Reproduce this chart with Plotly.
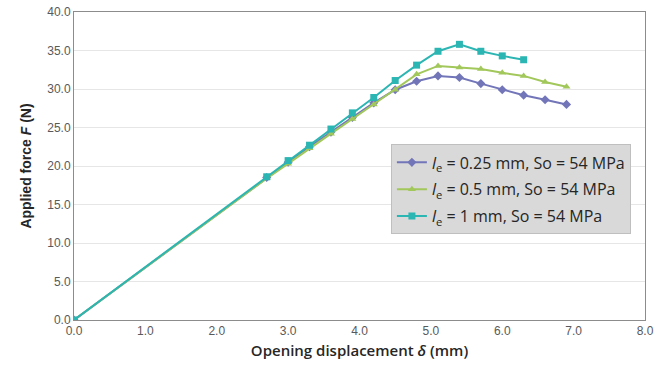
import plotly.graph_objects as go

x_all = [0.0, 2.7, 3.0, 3.3, 3.6, 3.9, 4.2, 4.5, 4.8, 5.1, 5.4, 5.7, 6.0, 6.3, 6.6, 6.9]
x_teal = [0.0, 2.7, 3.0, 3.3, 3.6, 3.9, 4.2, 4.5, 4.8, 5.1, 5.4, 5.7, 6.0, 6.3]

f_025 = [0.0, 18.5, 20.5, 22.5, 24.4, 26.3, 28.2, 29.9, 31.0, 31.7, 31.5, 30.7, 29.9, 29.2, 28.6, 28.0]
f_05 = [0.0, 18.4, 20.3, 22.3, 24.2, 26.1, 28.0, 29.9, 31.9, 33.0, 32.8, 32.6, 32.1, 31.7, 30.9, 30.3]
f_1 = [0.0, 18.6, 20.7, 22.7, 24.8, 26.9, 28.9, 31.1, 33.1, 34.9, 35.8, 34.9, 34.3, 33.8]

names = ["<i>l</i><sub>e</sub> = 0.25 mm, So = 54 MPa",
         "<i>l</i><sub>e</sub> = 0.5 mm, So = 54 MPa",
         "<i>l</i><sub>e</sub> = 1 mm, So = 54 MPa"]
colors = ["#7276b9", "#a2c75a", "#2bb5b3"]
symbols = ["diamond", "triangle-up", "square"]
xs = [x_all, x_all, x_teal]
ys = [f_025, f_05, f_1]

fig = go.Figure()
for i in range(3):
    fig.add_trace(go.Scatter(
        x=xs[i], y=ys[i], name=names[i], mode="lines+markers",
        line=dict(color=colors[i], width=2),
        marker=dict(symbol=symbols[i], size=7, color=colors[i]),
        legendgroup=f"g{i}",
    ))

fig.update_layout(
    width=657, height=373,
    margin=dict(l=74, r=12, t=12, b=53),
    plot_bgcolor="white", paper_bgcolor="white",
    font=dict(family="Liberation Sans, Arial", color="#404040"),
    showlegend=True,
    legend=dict(
        x=0.555, y=0.57, xanchor="left", yanchor="top",
        bgcolor="#d9d9d9", bordercolor="#bfbfbf", borderwidth=1,
        font=dict(family="Open Sans, Liberation Sans", size=16, color="#262626"),
        traceorder="grouped", tracegroupgap=3,
        itemwidth=30,
    ),
    xaxis=dict(
        range=[0, 8], dtick=1, tickformat=".1f", showgrid=False,
        showline=True, linecolor="#8c8c8c", linewidth=1, mirror=True,
        ticks="", zeroline=False, automargin=False,
        tickfont=dict(size=12, color="#595959"),
        title=dict(text="Opening displacement <i>δ</i> (mm)",
                   font=dict(family="Open Sans, Liberation Sans", size=15, color="#262626", weight=600),
                   standoff=8),
    ),
    yaxis=dict(
        range=[0, 40], dtick=5, tickformat=".1f", showgrid=True,
        gridcolor="#e6e6e6", gridwidth=1,
        showline=True, linecolor="#8c8c8c", linewidth=1, mirror=True,
        ticks="", zeroline=False, automargin=False,
        tickfont=dict(size=12, color="#595959"),
        title=dict(text="<b>Applied force <i>F</i> (N)</b>",
                   font=dict(family="Liberation Sans, Arial", size=14, color="#262626"),
                   standoff=12),
    ),
)

fig.write_html("out.html")
